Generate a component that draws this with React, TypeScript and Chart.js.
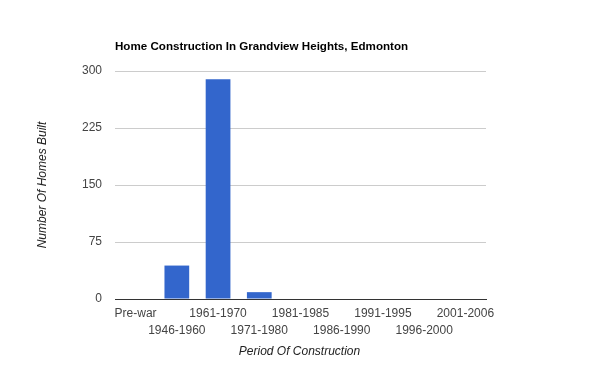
import React, { useEffect, useRef } from "react";
import { Chart, registerables } from "chart.js";

Chart.register(...registerables);

const categories: string[] = [
  "Pre-war", "1946-1960", "1961-1970", "1971-1980", "1981-1985",
  "1986-1990", "1991-1995", "1996-2000", "2001-2006",
];
const homesBuilt: number[] = [0, 44, 289, 9, 0, 0, 0, 0, 0];
const yTicks: number[] = [0, 75, 150, 225, 300];
const titleText = "Home Construction In Grandview Heights, Edmonton";
const yAxisTitle = "Number Of Homes Built";
const xAxisTitle = "Period Of Construction";

const FONT = "Arial, 'Liberation Sans', sans-serif";

const textPlugin = {
  id: "customText",
  afterDraw(chart: any) {
    const { ctx, chartArea } = chart;
    ctx.save();
    ctx.fillStyle = "#000";
    ctx.font = `bold 11.6px ${FONT}`;
    ctx.textAlign = "left";
    ctx.textBaseline = "alphabetic";
    ctx.fillText(titleText, chartArea.left, 50);

    ctx.fillStyle = "#222";
    ctx.font = `italic 12px ${FONT}`;
    ctx.textAlign = "center";
    ctx.textBaseline = "middle";
    ctx.fillText(xAxisTitle, (chartArea.left + chartArea.right) / 2 - 1, 352);

    ctx.translate(43, (chartArea.top + chartArea.bottom) / 2);
    ctx.rotate(-Math.PI / 2);
    ctx.fillText(yAxisTitle, 0, 0);
    ctx.restore();
  },
};

export default function App() {
  const ref = useRef<HTMLCanvasElement | null>(null);

  useEffect(() => {
    document.body.style.margin = "0";
    const labels = categories.map((c, i) => (i % 2 === 1 ? ["", c] : c));
    const chart = new Chart(ref.current as HTMLCanvasElement, {
      type: "bar",
      data: {
        labels,
        datasets: [
          {
            data: homesBuilt,
            backgroundColor: "#3366cc",
            categoryPercentage: 1,
            barPercentage: 0.6,
          },
        ],
      },
      options: {
        animation: false,
        responsive: false,
        maintainAspectRatio: false,
        layout: { padding: { top: 71, right: 114, bottom: 0, left: 0 } },
        plugins: { legend: { display: false }, tooltip: { enabled: false }, title: { display: false } },
        scales: {
          x: {
            grid: { display: false, drawTicks: false },
            border: { display: true, color: "#333", width: 1 },
            ticks: {
              autoSkip: false,
              maxRotation: 0,
              minRotation: 0,
              padding: 6,
              color: "#444",
              font: { family: FONT, size: 12, lineHeight: 1.4 },
            },
            afterFit(scale: any) {
              scale.height = 72;
            },
          },
          y: {
            min: 0,
            max: 300,
            afterBuildTicks(scale: any) {
              scale.ticks = yTicks.map((v) => ({ value: v }));
            },
            grid: { color: "#cccccc", drawTicks: false },
            border: { display: false },
            ticks: {
              padding: 13,
              color: "#444",
              font: { family: FONT, size: 12 },
            },
            afterFit(scale: any) {
              scale.width = 115;
            },
          },
        },
      },
      plugins: [textPlugin],
    });
    return () => chart.destroy();
  }, []);

  return <canvas ref={ref} width={600} height={371} style={{ display: "block" }} />;
}
